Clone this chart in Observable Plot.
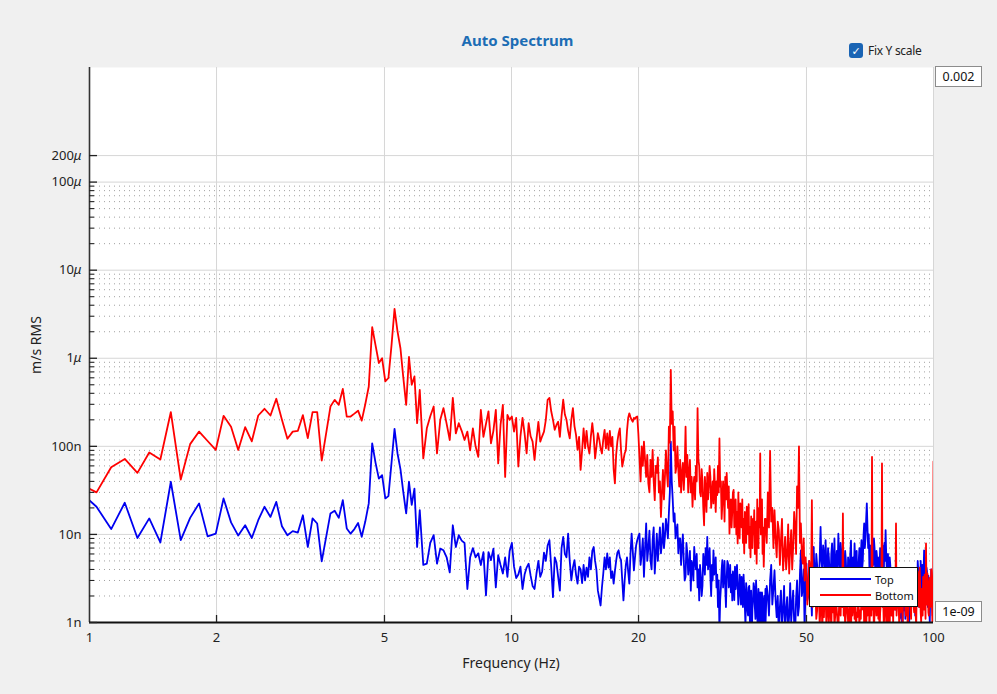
<!DOCTYPE html>
<html>
<head>
<meta charset="utf-8">
<script src="https://cdn.jsdelivr.net/npm/d3@7"></script>
<script src="https://cdn.jsdelivr.net/npm/@observablehq/plot@0.6"></script>
<style>
html,body{margin:0;padding:0;background:#f0f0f0;font-family:"Noto Sans","DejaVu Sans",sans-serif;}
#wrap{position:relative;width:997px;height:694px;overflow:hidden;background:#f0f0f0;}
#wrap svg{position:absolute;left:0;top:0;}
.ov{position:absolute;white-space:nowrap;}
#title{left:0;width:1035px;top:30px;text-align:center;font-weight:bold;font-size:15px;color:#1c6db5;}
#chk{left:849px;top:43px;width:14px;height:15px;background:#1a64b4;border-radius:3px;color:#fff;font-size:11px;line-height:15px;text-align:center;}
#chklbl{left:868px;top:42px;font-size:12px;color:#222;letter-spacing:-0.3px;}
.box{background:#fff;border:1px solid #8c8c8c;font-size:12.5px;color:#111;text-align:center;line-height:19px;height:19px;width:45px;}
#ylab{left:35px;top:345px;transform:translate(-50%,-50%) rotate(-90deg);font-size:14px;color:#222;}
#xlab{left:511px;top:662px;transform:translate(-50%,-50%);font-size:14px;color:#222;}
#legend{left:809px;top:567px;width:107px;height:38px;background:#fff;border:1px solid #111;font-size:11px;color:#111;}
.lrow{position:absolute;left:10px;height:14px;display:flex;align-items:center;}
.lline{width:51px;height:0;border-top:2px solid;margin-right:4px;}
</style>
</head>
<body>
<div id="wrap"></div>
<script>
// ---------------- data (values in nano m/s RMS) ----------------
// frequency grids (Hz): start and bin step of each segment
const seg1Start = 0.9524, seg1Step = 0.0866;
const seg2Start = 6.18,   seg2Step = 0.12;
const seg3Start = 20.1,   seg3Step = 0.125;
const seg4Start = 40,     seg4Step = 0.25;

const topSeg1 = [30,20.6,11.5,22.9,9.1,15.2,8.1,39.6,8.6,15.4,22.5,9.5,10.2,25.6,13.7,9.7,12.7,9.1,14.5,20.6,
  15.8,23.4,12.4,9.8,10.9,10.5,16.5,7.2,15.2,13.3,4.95,9.3,17.3,18.6,15.4,24.5,11.7,10.2,11.5,13.5,
  9.4,14,22.5,108,65,43,47,25.6,27.2,65,158,83,55,30,17.3,39.6,21.6,33,7.2,18.9];
const bottomSeg1 = [37,30,58,72,50,85,71,245,42,106,147,115,91,222,167,91,165,114,224,267,
  224,347,200,122,147,150,226,124,245,245,69,140,283,337,296,448,218,218,235,254,
  196,300,478,2250,1400,884,1000,546,597,1400,3640,2020,1300,600,296,1035,500,622,183,438];

const topSeg2 = [4.5,4.65,8,9.8,4.65,6.9,6.6,5.5,3.7,12.7,
  7.2,9.8,8.5,8.0,2.4,5.5,7.0,5.5,6.1,4.5,
  6.3,2.03,6.3,5.1,6.9,2.5,5.8,4.5,3.6,5.5,
  3.3,6.5,8.0,4.3,3.2,3.5,4.3,2.4,3.5,4.2,
  4.65,3.4,2.6,2.4,3.6,5.0,3.3,3.8,6.2,5.0,
  7.5,8.6,4.3,1.94,5.5,4.8,3.3,2.3,7.0,9.4,
  6.0,5.5,10.2,5.0,3.0,4.2,5.1,3.5,2.76,4.3,
  4.0,2.8,4.5,3.0,4.2,3.3,5.5,4.0,6.5,7.2,
  5.0,3.9,2.3,1.9,1.56,2.5,3.6,5.5,4.0,6.1,
  4.2,5.5,3.2,3.8,2.76,3.8,5.0,6.2,6.6,5.5,
  5.1,3.0,1.78,3.0,4.5,5.5,3.8,2.76,6.0,10.2,
  6.5,3.9,5.5,7.5,8.6,9.5];
const bottomSeg2 = [73,160,220,283,83,200,272,180,118,355,
  140,183,150,118,147,90,160,100,76,260,
  128,180,250,108,150,260,64,175,296,45,
  227,200,218,147,210,59,130,210,140,83,
  183,130,113,70,120,190,113,130,147,200,
  338,355,250,200,154,175,190,128,220,338,
  230,200,150,123,200,272,170,135,91,128,
  54,90,160,95,150,100,83,130,183,130,
  73,100,141,120,95,83,120,154,95,140,
  91,150,100,128,55,38,80,113,140,160,
  90,59,70,83,90,150,210,237,215,200,
  190,210,205,215,218,140];

const topSeg3 = [10.2,4.5,6,9,3.3,7,13.3,5,7,11,5.1,4,8.6,12,3.6,6,10.2,5,8,12,
  6.1,8,13.3,7,9.4,15,12,9,17.3,30,113,40,25,14,17.3,9,11.2,13,6.1,9,
  9,4.5,7.2,10,5,3,3.3,8,6.1,3.5,4.5,6.5,2.3,5,4.5,3,7.2,5,4,6,
  2.5,4,1.78,4.5,3.3,2,2.6,6,5,3.5,7,4.5,9.4,4,5,7,3.3,2,4.5,3,
  6.6,3.5,4,5.5,2.5,3.5,1.5,3,0.8,1.8,2.5,4,5.1,2.5,3.5,5,2.5,1.5,3.2,5,
  4.65,2.5,3,4.5,2.2,3.5,1.78,3.8,3,1.8,4.3,2.4,3.3,4.5,2.6,1.6,2.1,3.5,2.8,1.6,
  3.3,2.2,1.5,3.5,2.4,1.5,0.9,2.8,2.2,1.4,1.2,2.5,2.6,1.0,1.3,2.3,0.7,1.4,1.8,2.8,
  2.5,1.5,1.1,3.0,2.0,1.2,0.8,2.4,1.6,0.8,2.2,1.3,1.0,2.2,1.8,0.9,0.7,2.0,1.3,2.4];
const bottomSeg3 = [76,40,100,60,113,70,45,80,38,30,70,45,91,40,24.5,60,50,75,30,40,
  15.8,30,54,25,45,90,50,35,167,110,740,180,250,90,167,50,60,100,54,35,
  70,30,50,65,32,55,167,45,80,30,50,70,30,45,20.6,35,45,25,60,40,
  272,70,60,30,27,55,40,20,12.7,45,30,18,50,25,35,60,45,20,28,40,
  22.5,55,35,18,40,28,60,30,123,35,40,15,22.5,40,30,14,45,25,50,30,
  20,35,10.2,22,25,12,18,30,32,12,15,25,10,18,7.9,30,15,9,22.5,14,
  12,25,8,15,6.1,18,12,8,20.6,12,10,22,7,12,5.5,16,12,7,15,10,
  18.9,6,8,14,4.65,25,10,7,20,12,83,10,15,25,6,12,4.3,8,15,10];

const topSeg4 = [1.0,2.6,2.0,1.2,3.0,4.5,1.6,2.4,3.9,1.8,1.15,2.0,0.7,1.5,2.3,0.9,1.37,2.6,0.8,1.4,
  1.94,0.8,1.2,2.8,1.0,1.6,2.3,1.0,0.7,1.9,3,1.2,1.5,3.5,6.6,2.0,2.5,4.0,0.8,2.6,
  4.65,1.8,2.0,5.0,3.5,2.2,1.2,4.0,7.2,3.5,3.0,6.0,4.5,2.6,2.4,5.5,12.2,5.0,4.0,7.5,
  6,3.2,8.6,4.5,3.0,7.0,5.5,3.5,2.6,6.0,7.9,3.8,4.5,9.0,3.0,4.8,6.5,3.4,10.2,5.5,
  4.0,8.0,5.5,3.2,7.9,4.0,3.0,6.5,5.0,3.0,2.2,5.5,4.5,2.8,6.0,8.5,3.2,4.5,5.5,3.0,
  7.9,4.5,4.0,6.5,2.5,3.8,5.0,7.0,3.5,5.5,8.6,4.0,5.0,9.5,13.3,7.0,9,15,22.5,12,
  7,10,4.0,7.5,6.0,3.5,2.8,6.0,4.5,9.0,7.0,4.0,3.5,6.5,5.5,3.0,2.5,5.5,4.0,7.0,
  6.5,3.5,3.0,7.5,5.0,3.5,8,5.0,11.2,6.0,4.0,2.8,6,3.5,2.5,5.5,4.5,2.6,2.0,4.0,
  3.5,2.0,1.5,2.8,3.0,1.4,2.0,3.5,4.0,2.2,1.6,3.0,2.5,1.1,1.2,2.6,2.2,0.9,1.0,2.0,
  1.37,3.0,2.5,1.1,1.3,2.2,3.0,1.4,1.7,2.8,0.8,1.5,2.6,1.2,1.5,3.6,3.2,2.0,1.8,4.0,
  2.2,3.0,1.2,2.5,3.6,1.8,2.0,5.0,4.0,2.4,1.5,3.2,3.0,5.0,2.2,3.6,4.5,2.2,2.5,4.0,
  6.6,3.5,3.0,1.8,2.0,4.2,3.8,2.2,1.5,3.4,2.8,1.4,1.0,2.5,2.0,4.0,3.4,1.8,1.2,2.0,
  0.6];
const bottomSeg4 = [15,8,30,12,89,14,20,7,18.9,9,5.5,14,11.2,4.5,8.6,15,3.9,6,9.4,4,
  6,13,3.6,7,11.2,4,7.2,18,12,6,35,20,100,8,13.3,6,4.65,9,3.0,5.5,
  3.5,1.6,2.3,5,4,2.2,24.5,1.5,1.94,3.2,2.5,1.1,1.37,2.6,2.2,0.9,1.63,2.4,0.8,1.8,
  1.15,2.6,2.0,0.9,1.37,2.3,1.0,1.7,1.63,0.8,2.5,1.3,1.94,0.9,1.2,2.1,1.37,1.0,0.8,1.6,
  1.94,1.2,3,1.5,17.3,1.2,1.94,0.9,1.3,2.2,1.5,1.0,0.8,1.9,1.37,0.8,1.8,1.2,1.63,2.4,
  1.1,1.8,0.7,1.3,1.15,2.0,1.5,0.9,1.37,1.1,2.2,1.4,1.6,2.6,0.9,1.5,1.2,0.7,1.9,1.2,
  1.4,2.3,0.8,1.6,2.5,1.2,76,1.4,1.8,0.8,1.3,2.0,2.76,1.2,1.5,2.4,1.1,1.7,0.8,1.3,
  1.6,2.0,64,1.5,1.9,0.9,1.3,2.6,2.1,1.0,1.5,2.2,0.8,1.2,1.6,0.9,2.3,1.5,1.2,2.8,
  1.8,1.0,2.6,1.5,1.4,2.2,13.3,1.2,1.6,3.0,2.2,1.4,0.8,2.3,1.3,3.4,2.5,1.6,1.0,2.7,
  1.8,3.6,3.0,1.4,1.2,2.9,2.3,1.1,0.8,2.5,1.6,3.5,2.8,1.4,1.1,3.0,2.0,4.0,3.2,1.5,
  1.3,3.3,2.4,1.2,0.9,2.7,1.8,3.8,3.0,1.6,1.5,4.2,2.6,1.3,1.0,2.4,2.0,1.2,3.3,2.0,
  1.4,3.5,2.2,1.1,7.9,2.4,1.6,3.6,2.7,1.3,1.2,2.6,3.2,1.5,1.8,4.0,2.5,1.4,0.8,1.0,
  67];

const xTicks = [1, 2, 5, 10, 20, 50, 100];
const xGrid = [2, 5, 10, 20, 50, 100];
const yTicks = [1e-9, 1e-8, 1e-7, 1e-6, 1e-5, 1e-4, 2e-4];
const yTickLabels = ["1n", "10n", "100n", "1μ", "10μ", "100μ", "200μ"];
const yMinorMantissas = [2, 3, 4, 5, 6, 7, 8, 9];
const yMinorDecades = [1e-9, 1e-8, 1e-7, 1e-6, 1e-5];
const seriesNames = ["Top", "Bottom"];
const seriesColors = ["#0000f0", "#ff0000"];

// ---------------- build tables ----------------
function seg(start, step, vals) {
  return vals.map((v, i) => ({f: start + step * i, v: v * 1e-9}));
}
const topData = [...seg(seg1Start, seg1Step, topSeg1), ...seg(seg2Start, seg2Step, topSeg2),
                 ...seg(seg3Start, seg3Step, topSeg3), ...seg(seg4Start, seg4Step, topSeg4)];
const bottomData = [...seg(seg1Start, seg1Step, bottomSeg1), ...seg(seg2Start, seg2Step, bottomSeg2),
                    ...seg(seg3Start, seg3Step, bottomSeg3), ...seg(seg4Start, seg4Step, bottomSeg4)];
const yMinor = yMinorDecades.flatMap(d => yMinorMantissas.map(m => m * d));

const W = 997, H = 694, mL = 89, mR = 64, mT = 67, mB = 72;
const innerW = W - mL - mR, innerH = H - mT - mB;

const chart = Plot.plot({
  width: W, height: H,
  marginLeft: mL, marginRight: mR, marginTop: mT, marginBottom: mB,
  style: {background: "transparent", fontFamily: "'Noto Sans','DejaVu Sans',sans-serif", fontSize: "13px", color: "#222", overflow: "visible"},
  x: {type: "log", domain: [1, 100]},
  y: {type: "log", domain: [1e-9, 2e-3]},
  marks: [
    Plot.frame({fill: "white", stroke: null}),
    Plot.ruleY(yMinor, {stroke: "#a0a0a0", strokeDasharray: "1,4", strokeWidth: 1}),
    Plot.ruleY(yTicks, {stroke: "#d6d6d6", strokeWidth: 1}),
    Plot.ruleX(xGrid, {stroke: "#d6d6d6", strokeWidth: 1}),
    Plot.line(topData, {x: "f", y: "v", stroke: seriesColors[0], strokeWidth: 1.8, clip: true}),
    Plot.line(bottomData, {x: "f", y: "v", stroke: seriesColors[1], strokeWidth: 1.8, clip: true}),
    // axis lines
    Plot.ruleX([1], {stroke: "#333", strokeWidth: 1.6}),
    Plot.ruleY([1e-9], {stroke: "#111", strokeWidth: 1.8}),
    // inward ticks
    Plot.ruleY(yTicks, {stroke: "#222", strokeWidth: 1.3, insetRight: innerW - 8}),
    Plot.ruleY(yMinor, {stroke: "#222", strokeWidth: 1.1, insetRight: innerW - 5}),
    Plot.ruleX(xTicks.slice(1, -1), {stroke: "#222", strokeWidth: 1.3, insetTop: innerH - 7}),
    // tick labels
    Plot.axisY(yTicks, {tickSize: 0, tickPadding: 8, label: null, fontSize: 13,
      tickFormat: d => yTickLabels[yTicks.indexOf(d)]}),
    Plot.axisX(xTicks, {tickSize: 0, tickPadding: 10, label: null, fontSize: 13,
      tickFormat: d => String(d)})
  ]
});

// italic micro sign, as in the reference
d3.select(chart).selectAll('g[aria-label="y-axis tick label"] text').each(function () {
  const t = this.textContent;
  if (t.endsWith("μ")) {
    this.textContent = t.slice(0, -1);
    d3.select(this).append("tspan").attr("font-style", "italic").text("μ");
  }
});

const wrap = document.getElementById("wrap");
wrap.appendChild(chart);

function ov(id, cls, text) {
  const d = document.createElement("div");
  if (id) d.id = id;
  d.className = "ov" + (cls ? " " + cls : "");
  if (text != null) d.textContent = text;
  wrap.appendChild(d);
  return d;
}
ov("title", "", "Auto Spectrum");
ov("chk", "", "✓");
ov("chklbl", "", "Fix Y scale");
const bTop = ov(null, "box", "0.002"); bTop.style.left = "935px"; bTop.style.top = "66px";
const bBot = ov(null, "box", "1e-09"); bBot.style.left = "935px"; bBot.style.top = "601px";
ov("ylab", "", "m/s RMS");
ov("xlab", "", "Frequency (Hz)");
const lg = ov("legend", "", null);
seriesNames.forEach((name, i) => {
  const r = document.createElement("div");
  r.className = "lrow";
  r.style.top = (4 + i * 16) + "px";
  const l = document.createElement("div");
  l.className = "lline";
  l.style.borderTopColor = seriesColors[i];
  const s = document.createElement("span");
  s.textContent = name;
  r.appendChild(l); r.appendChild(s);
  lg.appendChild(r);
});
</script>
</body>
</html>
